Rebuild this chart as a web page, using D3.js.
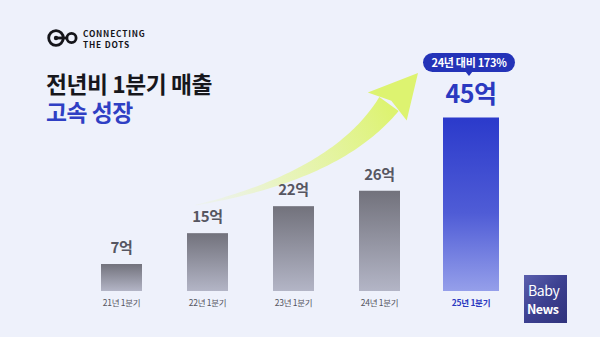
<!DOCTYPE html>
<html>
<head>
<meta charset="utf-8">
<script src="https://cdn.jsdelivr.net/npm/d3@7"></script>
<style>
  html, body { margin: 0; padding: 0; background: #eef1fb; }
  svg { display: block; }
  text { font-family: "Noto Sans CJK KR", "Noto Sans", sans-serif; }
</style>
</head>
<body>
<svg id="chart" width="600" height="337"></svg>
<script>
// Quarterly (Q1) revenue, in 억 원
const categories = ["21년 1분기", "22년 1분기", "23년 1분기", "24년 1분기", "25년 1분기"];
const revenue = [7, 15, 22, 26, 45];
const valueLabels = ["7억", "15억", "22억", "26억", "45억"];
const highlightIndex = 4;
const growthNote = "24년 대비 173%";
const titleLines = ["전년비 1분기 매출", "고속 성장"];

const W = 600, H = 337;
const svg = d3.select("#chart");
const defs = svg.append("defs");

svg.append("rect").attr("width", W).attr("height", H).attr("fill", "#eef1fb");

// Scales
const baseY = 291;
const y = d3.scaleLinear().domain([0, 45]).range([baseY, 117.5]);
const x = d3.scaleBand().domain(categories).range([101, 486]).paddingInner(45 / 86).paddingOuter(0);

// Gradients
const gGray = defs.append("linearGradient").attr("id", "gGray").attr("x1", 0).attr("y1", 0).attr("x2", 0).attr("y2", 1);
gGray.append("stop").attr("offset", "0%").attr("stop-color", "#72727c");
gGray.append("stop").attr("offset", "100%").attr("stop-color", "#b3b5c6");
const gBlue = defs.append("linearGradient").attr("id", "gBlue").attr("x1", 0).attr("y1", 0).attr("x2", 0).attr("y2", 1);
gBlue.append("stop").attr("offset", "0%").attr("stop-color", "#2b3acb");
gBlue.append("stop").attr("offset", "55%").attr("stop-color", "#4f5cd6");
gBlue.append("stop").attr("offset", "100%").attr("stop-color", "#959fea");

const bars = categories.map((c, i) => {
  const hl = i === highlightIndex;
  const bx = hl ? x(c) - 2 : x(c);
  const bw = hl ? x.bandwidth() + 15 : x.bandwidth();
  return { c, v: revenue[i], label: valueLabels[i], hl, bx, bw, cx: bx + bw / 2 };
});

// Growth arrow: tapered curve rising toward the highlighted bar's note
const hlBar = bars[highlightIndex];
const bubble = { cx: hlBar.cx - 2, top: 53, h: 19, w: 92 };
const tip = [bubble.cx - bubble.w / 2 - 5, bubble.top + 20];
const headMid = [tip[0] - 29, tip[1] + 31];
const p0 = [bars[1].cx - 12, y(revenue[1]) - 28];
const c1 = [headMid[0] - 52, headMid[1] + 72];
function qpt(t) {
  const a = (1 - t) * (1 - t), b = 2 * (1 - t) * t, d = t * t;
  return [a * p0[0] + b * c1[0] + d * headMid[0], a * p0[1] + b * c1[1] + d * headMid[1]];
}
function qtan(t) {
  const dx = 2 * (1 - t) * (c1[0] - p0[0]) + 2 * t * (headMid[0] - c1[0]);
  const dy = 2 * (1 - t) * (c1[1] - p0[1]) + 2 * t * (headMid[1] - c1[1]);
  const l = Math.hypot(dx, dy);
  return [dx / l, dy / l];
}
const N = 60, upper = [], lower = [];
for (let k = 0; k <= N; k++) {
  const t = k / N;
  const p = qpt(t), tg = qtan(t);
  const w = 0.4 + 11.5 * Math.pow(t, 1.1);
  const n = [-tg[1], tg[0]];
  upper.push([p[0] + n[0] * w, p[1] + n[1] * w]);
  lower.push([p[0] - n[0] * w, p[1] - n[1] * w]);
}
const gArrow = defs.append("linearGradient").attr("id", "gArrow")
  .attr("gradientUnits", "userSpaceOnUse")
  .attr("x1", p0[0]).attr("y1", p0[1]).attr("x2", headMid[0]).attr("y2", headMid[1]);
gArrow.append("stop").attr("offset", "0%").attr("stop-color", "#e8f5c0").attr("stop-opacity", 0.15);
gArrow.append("stop").attr("offset", "40%").attr("stop-color", "#e6f5a4").attr("stop-opacity", 0.7);
gArrow.append("stop").attr("offset", "100%").attr("stop-color", "#ddf370").attr("stop-opacity", 1);
svg.append("path")
  .attr("d", d3.line()(upper.concat(lower.reverse())) + "Z")
  .attr("fill", "url(#gArrow)");
const endTan = qtan(1), endN = [-endTan[1], endTan[0]];
svg.append("path")
  .attr("d", d3.line()([
    [headMid[0] + endN[0] * 24 - endTan[0] * 3, headMid[1] + endN[1] * 24 - endTan[1] * 3],
    tip,
    [headMid[0] - endN[0] * 24 - endTan[0] * 3, headMid[1] - endN[1] * 24 - endTan[1] * 3],
    [headMid[0] + endTan[0] * 4, headMid[1] + endTan[1] * 4]
  ]) + "Z")
  .attr("fill", "#ddf370");

// Bars
svg.append("g").selectAll("rect").data(bars).join("rect")
  .attr("x", d => d.bx)
  .attr("y", d => y(d.v))
  .attr("width", d => d.bw)
  .attr("height", d => baseY - y(d.v))
  .attr("fill", d => d.hl ? "url(#gBlue)" : "url(#gGray)");

// Value labels
svg.append("g").selectAll("text").data(bars).join("text")
  .attr("x", d => d.cx)
  .attr("y", d => y(d.v) - (d.hl ? 15 : 11))
  .attr("text-anchor", "middle")
  .attr("font-weight", 700)
  .attr("font-size", d => d.hl ? 25 : 15)
  .attr("letter-spacing", d => d.hl ? -0.5 : -0.3)
  .attr("fill", d => d.hl ? "#2b39c0" : "#565661")
  .text(d => d.label);

// Category labels (axis without line or ticks)
const axis = svg.append("g").attr("transform", `translate(0,${baseY})`)
  .call(d3.axisBottom(x).tickSize(0).tickPadding(9));
axis.select(".domain").remove();
axis.selectAll("text")
  .attr("font-family", "'Noto Sans CJK KR', sans-serif")
  .attr("font-size", 8.5)
  .attr("letter-spacing", -0.3)
  .attr("font-weight", (d, i) => i === highlightIndex ? 700 : 400)
  .attr("fill", (d, i) => i === highlightIndex ? "#2b39c0" : "#55555f")
  .attr("dx", (d, i) => i === highlightIndex ? (hlBar.cx - (x(d) + x.bandwidth() / 2)) : 0);

// Growth note bubble
const bg = svg.append("g");
bg.append("rect")
  .attr("x", bubble.cx - bubble.w / 2).attr("y", bubble.top)
  .attr("width", bubble.w).attr("height", bubble.h)
  .attr("rx", bubble.h / 2).attr("fill", "#2433b8");
bg.append("path")
  .attr("d", d3.line()([[bubble.cx - 4, bubble.top + bubble.h - 1], [bubble.cx, bubble.top + bubble.h + 4], [bubble.cx + 4, bubble.top + bubble.h - 1]]) + "Z")
  .attr("fill", "#2433b8");
bg.append("text")
  .attr("x", bubble.cx).attr("y", bubble.top + 13.5)
  .attr("text-anchor", "middle")
  .attr("font-size", 11).attr("font-weight", 700)
  .attr("letter-spacing", -0.3)
  .attr("fill", "#ffffff")
  .text(growthNote);

// Two-line title
const title = svg.append("text").attr("x", 46).attr("y", 93)
  .attr("font-size", 22.8).attr("font-weight", 700).attr("letter-spacing", -0.45);
title.append("tspan").attr("x", 46).attr("y", 93).attr("fill", "#17171c").text(titleLines[0]);
title.append("tspan").attr("x", 46).attr("y", 120.5).attr("fill", "#2f3fc4").text(titleLines[1]);

// Brand mark
const logo = svg.append("g").attr("fill", "none").attr("stroke", "#15151a").attr("stroke-width", 2.8);
logo.append("circle").attr("cx", 56).attr("cy", 38).attr("r", 7.3);
logo.append("line").attr("x1", 56).attr("y1", 38).attr("x2", 66).attr("y2", 38);
logo.append("circle").attr("cx", 56).attr("cy", 38).attr("r", 2.2).attr("fill", "#15151a").attr("stroke", "none");
logo.append("circle").attr("cx", 71.5).attr("cy", 38).attr("r", 4.6);
svg.append("text").attr("x", 83).attr("y", 37.4)
  .attr("font-family", "Inter, 'Noto Sans', sans-serif")
  .attr("font-size", 8.3).attr("font-weight", 600).attr("letter-spacing", 0.8)
  .attr("fill", "#15151a").text("CONNECTING");
svg.append("text").attr("x", 83).attr("y", 48)
  .attr("font-family", "Inter, 'Noto Sans', sans-serif")
  .attr("font-size", 8.3).attr("font-weight", 600).attr("letter-spacing", 0.8)
  .attr("fill", "#15151a").text("THE DOTS");

// Baby News badge
const gBadge = defs.append("linearGradient").attr("id", "gBadge").attr("x1", 0).attr("y1", 0).attr("x2", 1).attr("y2", 1);
gBadge.append("stop").attr("offset", "0%").attr("stop-color", "#5a5fae");
gBadge.append("stop").attr("offset", "50%").attr("stop-color", "#3c4090");
gBadge.append("stop").attr("offset", "100%").attr("stop-color", "#30337c");
svg.append("rect").attr("x", 524).attr("y", 275).attr("width", 43).attr("height", 48).attr("fill", "url(#gBadge)");
svg.append("text").attr("x", 528).attr("y", 296)
  .attr("font-family", "'Liberation Sans', sans-serif")
  .attr("font-size", 14).attr("fill", "#ffffff").attr("letter-spacing", -0.4).text("Baby");
svg.append("text").attr("x", 527).attr("y", 313.5)
  .attr("font-family", "'Liberation Sans', sans-serif")
  .attr("font-size", 12.5).attr("font-weight", 700).attr("fill", "#ffffff").attr("letter-spacing", -0.5).text("News");
</script>
</body>
</html>
